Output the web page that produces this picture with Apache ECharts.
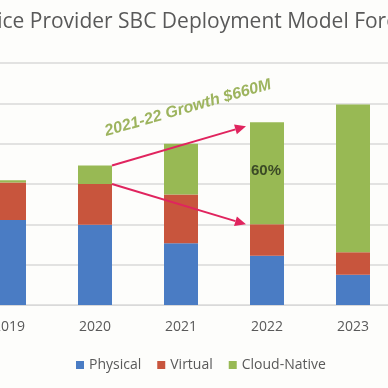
<!DOCTYPE html>
<html><head><meta charset="utf-8">
<script src="https://cdn.jsdelivr.net/npm/echarts@6/dist/echarts.min.js"></script>
<style>html,body{margin:0;padding:0;background:#fdfdfb;overflow:hidden;width:388px;height:388px;position:relative}
#c{width:430px;height:388px;position:absolute;left:-34px;top:0}</style>
</head><body><div id="c"></div>
<script>
const years = ['2019', '2020', '2021', '2022', '2023'];
const physical = [2.11, 1.99, 1.53, 1.22, 0.75];
const virtual = [0.93, 1.01, 1.21, 0.78, 0.56];
const cloudNative = [0.05, 0.46, 1.26, 2.53, 3.66];
const titleText = 'Service Provider SBC Deployment Model Forecast';
const growthText = '2021-22 Growth $660M';
const shareText = '60%';

const OFF = 34; // page x = div x - OFF
const chart = echarts.init(document.getElementById('c'), null, {renderer: 'canvas'});
const font = '"Open Sans", "Liberation Sans", sans-serif';
const option = {
  animation: false,
  backgroundColor: '#fdfdfb',
  title: {
    text: titleText, left: 191 + OFF, textAlign: 'center', top: 7,
    textStyle: {fontFamily: font, fontSize: 21, fontWeight: 'normal', color: '#595959'}
  },
  legend: {
    bottom: 11, left: 71 + OFF, itemWidth: 8, itemHeight: 8, itemGap: 16,
    icon: 'rect',
    textStyle: {fontFamily: font, fontSize: 14, color: '#595959'},
    data: ['Physical', 'Virtual', 'Cloud-Native']
  },
  grid: {left: 0, right: 0, top: 63, bottom: 83},
  xAxis: {
    type: 'category', data: years,
    axisLine: {lineStyle: {color: '#d9d9d9', width: 1}},
    axisTick: {show: false},
    axisLabel: {fontFamily: font, fontSize: 14, color: '#595959', margin: 15}
  },
  yAxis: {
    type: 'value', min: 0, max: 6, interval: 1,
    axisLabel: {show: false}, axisLine: {show: false}, axisTick: {show: false},
    splitLine: {lineStyle: {color: '#d9d9d9', width: 1.5}}
  },
  series: [
    {name: 'Physical', type: 'bar', stack: 's', barWidth: 34, data: physical, itemStyle: {color: '#4a7cc4'}},
    {name: 'Virtual', type: 'bar', stack: 's', barWidth: 34, data: virtual, itemStyle: {color: '#c8553d'}},
    {name: 'Cloud-Native', type: 'bar', stack: 's', barWidth: 34, data: cloudNative, itemStyle: {color: '#98b954'}}
  ]
};
chart.setOption(option);

function stackTop(i, upto) {
  let s = 0;
  const arrs = [physical, virtual, cloudNative];
  for (let k = 0; k <= upto; k++) s += arrs[k][i];
  return s;
}
const half = 17;
const aStart = chart.convertToPixel({gridIndex: 0}, [1, stackTop(1, 2)]);
const aEnd = chart.convertToPixel({gridIndex: 0}, [3, stackTop(3, 2) - 0.1]);
const bStart = chart.convertToPixel({gridIndex: 0}, [1, stackTop(1, 1)]);
const bEnd = chart.convertToPixel({gridIndex: 0}, [3, stackTop(3, 1)]);
const lbl = chart.convertToPixel({gridIndex: 0}, [3, stackTop(3, 1) + cloudNative[3] * 0.52]);

function arrow(p0, p1) {
  const x0 = p0[0] + half, y0 = p0[1], x1 = p1[0] - half - 4, y1 = p1[1];
  const ang = Math.atan2(y1 - y0, x1 - x0);
  const L = 11, W = 5;
  const bx = x1 - L * Math.cos(ang), by = y1 - L * Math.sin(ang);
  const nx = -Math.sin(ang), ny = Math.cos(ang);
  return [
    {type: 'line', shape: {x1: x0, y1: y0, x2: bx, y2: by}, style: {stroke: '#e0245e', lineWidth: 2}, z: 10},
    {type: 'polygon', shape: {points: [[x1, y1], [bx + nx * W, by + ny * W], [bx - nx * W, by - ny * W]]}, style: {fill: '#e0245e'}, z: 10}
  ];
}
chart.setOption({
  graphic: [
    ...arrow(aStart, aEnd),
    ...arrow(bStart, bEnd),
    {type: 'text', x: 188 + OFF, y: 108, rotation: 16 * Math.PI / 180, z: 11,
     style: {text: growthText, fill: '#9db45e', font: 'italic bold 16px "Liberation Sans", Arial, sans-serif', align: 'center', verticalAlign: 'middle'}},
    {type: 'text', x: lbl[0] - 1, y: lbl[1], z: 11,
     style: {text: shareText, fill: '#3b4a26', font: 'bold 15px "Liberation Sans", Arial, sans-serif', align: 'center', verticalAlign: 'middle'}}
  ]
});
</script></body></html>
